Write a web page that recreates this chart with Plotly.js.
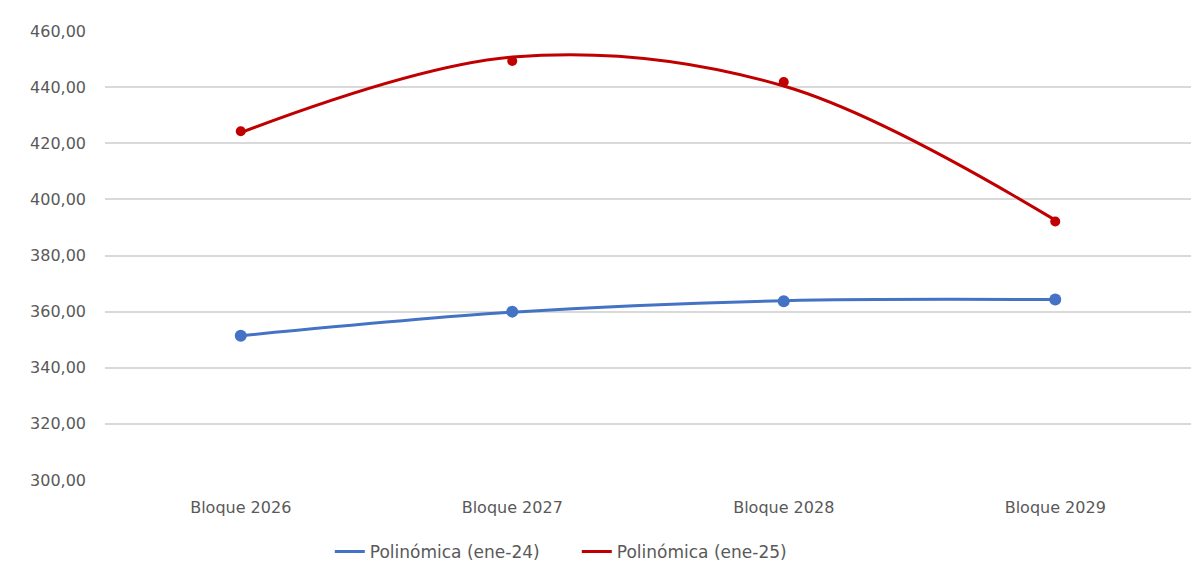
<!DOCTYPE html>
<html>
<head>
<meta charset="utf-8">
<script src="https://cdn.plot.ly/plotly-3.0.1.min.js"></script>
<style>
  html, body { margin: 0; padding: 0; background: #fff; }
  #chart { width: 1204px; height: 583px; }
  #frame { position: absolute; left: 4px; top: 0; width: 2px; height: 583px; background: #d9d9d9; }
</style>
</head>
<body>
<div id="frame"></div>
<div id="chart"></div>
<script>
// categories
const bloques = ['Bloque 2026', 'Bloque 2027', 'Bloque 2028', 'Bloque 2029'];

// observed values
const ene24 = [351.4, 360.0, 363.7, 364.3];
const ene25 = [424.3, 449.3, 441.8, 392.1];

// polynomial trend values read at each category
const trend24 = [351.4, 359.8, 363.9, 364.3];
const trend25 = [423.8, 450.7, 440.4, 392.6];

const yTicks = [300, 320, 340, 360, 380, 400, 420, 440, 460];

const BLUE = '#4472C4';
const RED = '#C00000';
const FONT = '"DejaVu Sans", sans-serif';
const GREY = '#595959';

const traces = [
    {
        x: bloques, y: trend24, type: 'scatter', mode: 'lines',
        name: 'Polinómica (ene-24)',
        line: { color: BLUE, width: 3, shape: 'spline', smoothing: 1 },
        hoverinfo: 'skip'
    },
    {
        x: bloques, y: trend25, type: 'scatter', mode: 'lines',
        name: 'Polinómica (ene-25)',
        line: { color: RED, width: 3, shape: 'spline', smoothing: 1 },
        hoverinfo: 'skip'
    },
    {
        x: bloques, y: ene24, type: 'scatter', mode: 'markers',
        name: 'ene-24', showlegend: false,
        marker: { color: BLUE, size: 12 }
    },
    {
        x: bloques, y: ene25, type: 'scatter', mode: 'markers',
        name: 'ene-25', showlegend: false,
        marker: { color: RED, size: 10 }
    }
];

const layout = {
    width: 1204,
    height: 583,
    margin: { l: 105, r: 13, t: 31, b: 103 },
    paper_bgcolor: '#ffffff',
    plot_bgcolor: '#ffffff',
    font: { family: FONT, size: 16, color: GREY },
    showlegend: true,
    legend: {
        orientation: 'h',
        x: 0.207, xanchor: 'left',
        y: -0.16, yanchor: 'middle',
        font: { family: FONT, size: 17, color: GREY },
        entrywidth: 202, entrywidthmode: 'pixels'
    },
    xaxis: {
        type: 'category',
        range: [-0.5, 3.5],
        showgrid: false,
        zeroline: false,
        showline: false,
        ticks: '',
        ticklabelstandoff: 16,
        tickfont: { family: FONT, size: 16, color: GREY }
    },
    yaxis: {
        range: [300, 460],
        tickvals: yTicks,
        ticktext: yTicks.map(v => v.toFixed(2).replace('.', ',')),
        showgrid: true,
        gridcolor: '#d9d9d9',
        gridwidth: 2,
        zeroline: false,
        showline: false,
        ticks: '',
        ticklabelstandoff: 18,
        tickfont: { family: FONT, size: 16, color: GREY }
    }
};

Plotly.newPlot('chart', traces, layout, { displayModeBar: false, staticPlot: true });
</script>
</body>
</html>
